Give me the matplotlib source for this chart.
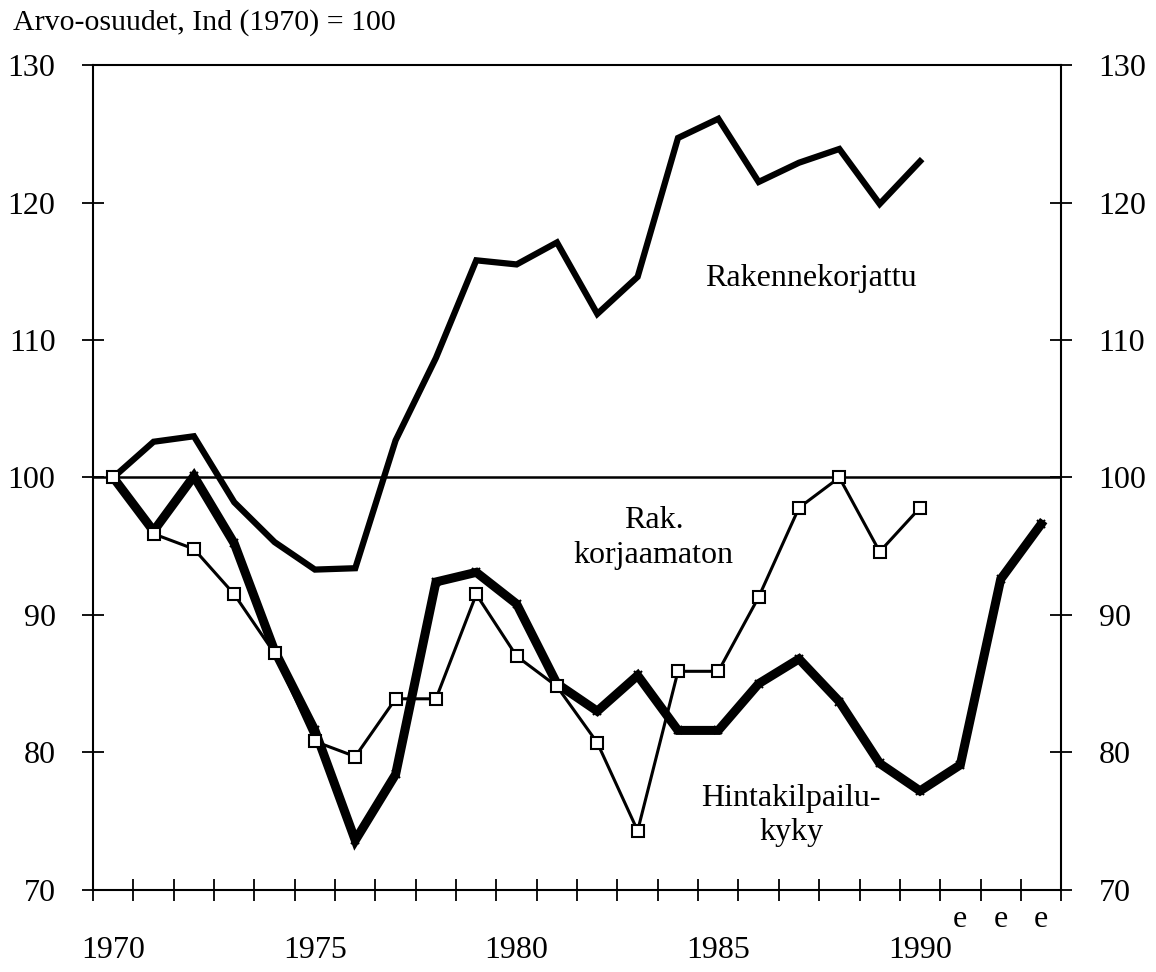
import numpy as np
import matplotlib
matplotlib.use("Agg")
import matplotlib.pyplot as plt

plt.rcParams['font.family'] = ['Liberation Serif', 'DejaVu Serif']

years = list(range(1970, 1994))
year_labels = ["1970", "1975", "1980", "1985", "1990"]
est_years = [1991, 1992, 1993]

# Arvo-osuudet, Ind (1970) = 100
rakennekorjattu = [100.0, 102.6, 103.0, 98.2, 95.3, 93.3, 93.4, 102.7, 108.7, 115.8,
                   115.5, 117.1, 111.9, 114.6, 124.7, 126.1, 121.5, 122.9, 123.9, 119.9,
                   123.0]
korjaamaton = [100.0, 95.9, 94.8, 91.5, 87.2, 80.8, 79.7, 83.9, 83.9, 91.5,
               87.0, 84.8, 80.7, 74.3, 85.9, 85.9, 91.3, 97.8, 100.0, 94.6,
               97.8]
hintakilpailukyky = [100.0, 96.1, 100.1, 95.2, 87.4, 81.6, 73.6, 78.4, 92.4, 93.1,
                     90.8, 85.0, 83.0, 85.6, 81.6, 81.6, 85.0, 86.8, 83.7, 79.2,
                     77.2, 79.1, 92.6, 96.6]

fs = 23
fig = plt.figure(figsize=(11.56, 9.72), dpi=100)
ax = fig.add_axes([0.0805, 0.0845, 0.8375, 0.8485])

x = np.arange(len(years))
ax.axhline(100, color='black', lw=1.8, zorder=1)
ax.plot(x[:len(rakennekorjattu)], rakennekorjattu, color='black', lw=4.5,
        solid_joinstyle='miter', zorder=2)
ax.plot(x, hintakilpailukyky, color='black', lw=6.5, solid_joinstyle='miter',
        marker='x', markersize=6, mew=1.5, zorder=3)
ax.plot(x[:len(korjaamaton)], korjaamaton, color='black', lw=2.2,
        marker='s', markersize=9, markerfacecolor='white',
        markeredgecolor='black', mew=1.5, zorder=4)

ax.set_xlim(-0.5, len(years) - 0.5)
ax.set_ylim(70, 130)

# year boundaries as ticks, labels in the middle of the years
ax.set_xticks(np.arange(len(years) + 1) - 0.5)
ax.set_xticklabels([])
ax.set_xticks([years.index(int(y)) for y in year_labels], minor=True)
ax.set_xticklabels(year_labels, minor=True, fontsize=fs)
ax.tick_params(axis='x', which='major', direction='inout', length=16, width=1.3)
ax.tick_params(axis='x', which='minor', length=0, pad=33)

ax.set_yticks(np.arange(70, 131, 10))
ax.tick_params(axis='y', direction='inout', length=16, width=1.3,
               labelsize=fs, pad=19, right=True, labelright=True)

for s in ax.spines.values():
    s.set_linewidth(1.5)

for y in est_years:
    ax.annotate('e', xy=(years.index(y), 0), xycoords=('data', 'axes fraction'),
                xytext=(0, -21), textcoords='offset points',
                ha='center', va='center', fontsize=fs)

ax.text(17.3, 114.5, 'Rakennekorjattu', fontsize=fs, ha='center', va='center')
ax.text(13.4, 95.6, 'Rak.\nkorjaamaton', fontsize=fs, ha='center', va='center',
        multialignment='center', linespacing=1.25)
ax.text(16.8, 75.4, 'Hintakilpailu-\nkyky', fontsize=fs, ha='center', va='center',
        multialignment='center', linespacing=1.25)

fig.text(0.011, 0.977, 'Arvo-osuudet, Ind (1970) = 100', fontsize=21.5,
         ha='left', va='center')

fig.savefig('out.png', dpi=100)
